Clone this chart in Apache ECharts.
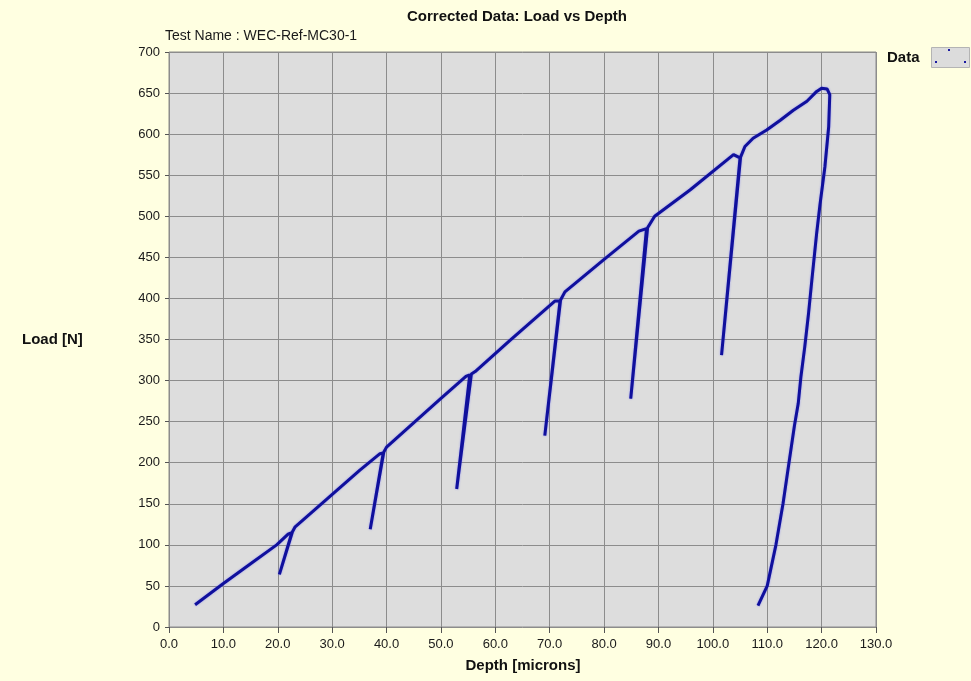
<!DOCTYPE html>
<html>
<head>
<meta charset="utf-8">
<title>Corrected Data: Load vs Depth</title>
<script src="https://cdn.jsdelivr.net/npm/echarts@6/dist/echarts.min.js"></script>
<style>
  html, body { margin: 0; padding: 0; background: #ffffe1; }
  #chart { width: 971px; height: 681px; }
</style>
</head>
<body>
<div id="chart"></div>
<script>
// Indentation test record: depth [microns] and load [N], in acquisition order
// (loading, partial unload/reload cycles, final unload).
const depth = [
  4.8, 10.0, 15.0, 19.8, 21.9, 22.6, 20.3, 22.7, 23.2,
  29.6, 35.1, 38.8, 39.4, 37.0, 39.5, 40.0,
  49.8, 54.6, 55.3, 52.9, 55.6, 56.3,
  62.7, 71.0, 71.9, 69.1, 72.0, 72.8,
  79.9, 86.4, 87.8, 84.9, 88.0, 89.3, 90.3,
  95.8, 103.8, 105.0, 101.6, 105.1, 105.9,
  107.4, 109.9, 112.4, 114.8, 117.3, 119.1, 120.0, 121.0, 121.5,
  121.3, 120.6, 119.7, 119.1, 118.2, 117.6, 116.9, 116.2, 115.7,
  115.0, 114.0, 112.9, 111.6, 110.0, 108.3
];
const load = [
  27, 53, 77, 100, 113, 115, 64, 116, 122,
  159, 191, 211, 212, 119, 213, 219,
  277, 305, 307, 168, 308, 311,
  349, 397, 397, 233, 398, 408,
  447, 482, 485, 278, 486, 500, 505,
  532, 575, 571, 331, 572, 585,
  595, 605, 617, 629, 640, 652, 656, 655, 648,
  609, 560, 514, 480, 422, 382, 341, 305, 272,
  245, 200, 150, 100, 50, 26
];

const seriesName = 'Data';
const chartTitle = 'Corrected Data: Load vs Depth';
const testName = 'Test Name : WEC-Ref-MC30-1';
const xTitle = 'Depth [microns]';
const yTitle = 'Load [N]';

const points = depth.map((d, i) => [d, load[i]]);

const chart = echarts.init(document.getElementById('chart'), null, { renderer: 'canvas' });

const labelFont = { fontFamily: 'Liberation Sans, Arial, sans-serif', fontSize: 13, color: '#1a1a1a' };

chart.setOption({
  backgroundColor: '#ffffe1',
  animation: false,
  grid: {
    left: 169, right: 95, top: 52, bottom: 54,
    show: true,
    backgroundColor: '#dddddd',
    borderColor: '#8a8a8a',
    borderWidth: 1
  },
  xAxis: {
    type: 'value',
    min: 0, max: 130, interval: 10,
    offset: 4,
    axisLine: { show: false },
    axisTick: { show: true, length: 6, lineStyle: { color: '#555555' } },
    axisLabel: Object.assign({ margin: 7, formatter: v => v.toFixed(1) }, labelFont),
    splitLine: { show: true, lineStyle: { color: '#8c8c8c', width: 1 } }
  },
  yAxis: {
    type: 'value',
    min: 0, max: 700, interval: 50,
    offset: 3,
    axisLine: { show: false },
    axisTick: { show: true, length: 4, lineStyle: { color: '#555555' } },
    axisLabel: Object.assign({ margin: 6 }, labelFont),
    splitLine: { show: true, lineStyle: { color: '#8c8c8c', width: 1 } }
  },
  legend: {
    right: 1, top: 47,
    padding: 0,
    align: 'right',
    itemWidth: 38, itemHeight: 20,
    textStyle: { fontFamily: 'Liberation Sans, Arial, sans-serif', fontSize: 15, fontWeight: 'bold', color: '#111111', padding: [0, 7, 0, 0] },
    data: [{ name: seriesName, icon: 'rect', itemStyle: { color: '#dcdcdc', borderColor: '#b4b4b4', borderWidth: 1 } }]
  },
  graphic: [
    { type: 'text', x: 517, y: 17, style: { text: chartTitle, font: 'bold 15px "Liberation Sans", Arial, sans-serif', fill: '#111111', textAlign: 'center', textVerticalAlign: 'middle' } },
    { type: 'text', x: 165, y: 36, style: { text: testName, font: '14px "Liberation Sans", Arial, sans-serif', fill: '#1a1a1a', textAlign: 'left', textVerticalAlign: 'middle' } },
    { type: 'text', x: 22, y: 340, style: { text: yTitle, font: 'bold 15px "Liberation Sans", Arial, sans-serif', fill: '#111111', textAlign: 'left', textVerticalAlign: 'middle' } },
    { type: 'text', x: 523, y: 666, style: { text: xTitle, font: 'bold 15px "Liberation Sans", Arial, sans-serif', fill: '#111111', textAlign: 'center', textVerticalAlign: 'middle' } },
    // scattered dots inside the legend swatch
    { type: 'rect', z: 100, shape: { x: 935, y: 61, width: 2, height: 2 }, style: { fill: '#1a1aa0' } },
    { type: 'rect', z: 100, shape: { x: 948, y: 49, width: 2, height: 2 }, style: { fill: '#1a1aa0' } },
    { type: 'rect', z: 100, shape: { x: 964, y: 61, width: 2, height: 2 }, style: { fill: '#1a1aa0' } }
  ],
  series: [{
    name: seriesName,
    type: 'line',
    data: points,
    showSymbol: false,
    symbol: 'none',
    smooth: false,
    lineStyle: { color: '#10109c', width: 3, shadowColor: 'rgba(90,90,255,0.6)', shadowBlur: 2 },
    itemStyle: { color: '#10109c' }
  }]
});
</script>
</body>
</html>
